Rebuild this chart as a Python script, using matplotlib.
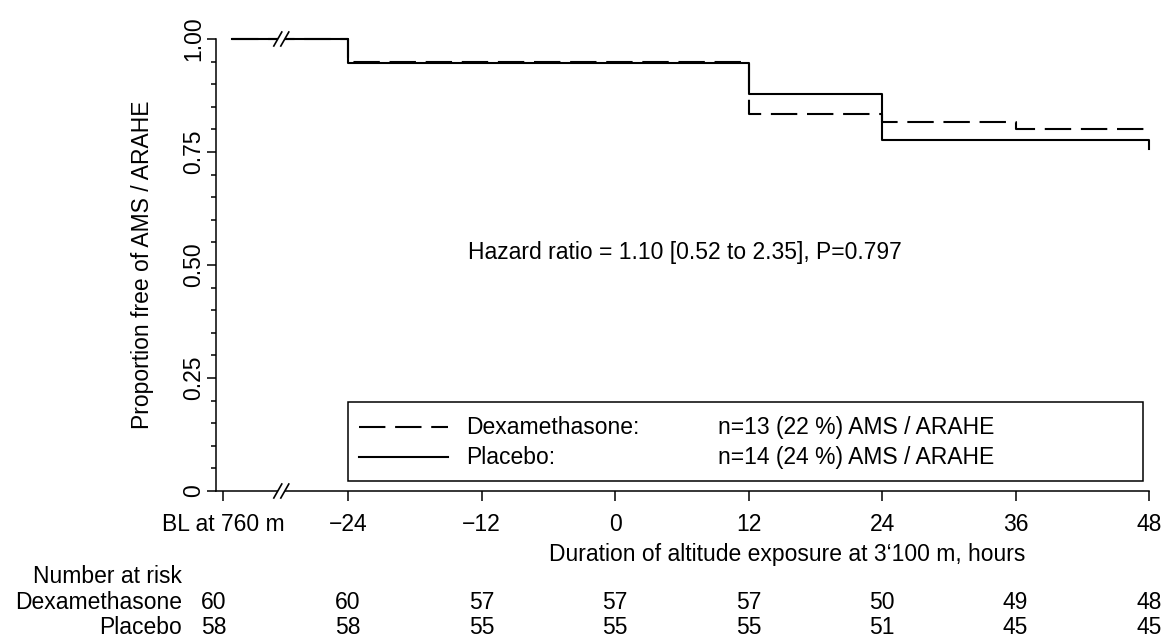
import matplotlib
matplotlib.use('Agg')
import matplotlib.pyplot as plt
from matplotlib.patches import Rectangle, Polygon

plt.rcParams['font.family'] = ['Liberation Sans', 'DejaVu Sans']
plt.rcParams['lines.scale_dashes'] = False

# data
bl_tick = -35.2          # position of the "BL at 760 m" tick
bl_start = -34.4         # where the curves begin
axis_break = -30.0
x_ticks = [-24, -12, 0, 12, 24, 36, 48]

dex_time = [bl_start, -24, 12, 24, 36, 48]
dex_surv = [1.0, 0.950, 0.833, 0.817, 0.800, 0.800]
pla_time = [bl_start, -24, 12, 24, 48]
pla_surv = [1.0, 0.948, 0.879, 0.776, 0.757]

risk_cols = [-36.1, -24, -12, 0, 12, 24, 36, 48]
risk_dex = [60, 60, 57, 57, 57, 50, 49, 48]
risk_pla = [58, 58, 55, 55, 55, 51, 45, 45]

legend_names = ['Dexamethasone:', 'Placebo:']
legend_counts = ['n=13 (22 %) AMS / ARAHE', 'n=14 (24 %) AMS / ARAHE']
hazard_text = 'Hazard ratio = 1.10 [0.52 to 2.35], P=0.797'

W, H = 1164, 639
FS = 16.5
dash = (19, 7)

# pixel helpers
AX_L, AX_R, AX_T, AX_B = 216, 1149, 39, 491
def fx(px):
    return px / W
def fy(py):
    return 1 - py / H
def ax_x(px):
    return (px - AX_L) / (AX_R - AX_L)
def ax_y(py):
    return (AX_B - py) / (AX_B - AX_T)

fig = plt.figure(figsize=(W / 100, H / 100), dpi=100)
ax = fig.add_axes([fx(AX_L), fy(AX_B), (AX_R - AX_L) / W, (AX_B - AX_T) / H])

ax.plot(pla_time, pla_surv, drawstyle='steps-post', color='black', lw=1.5,
        clip_on=False, zorder=3)
ax.plot(dex_time, dex_surv, drawstyle='steps-post', color='black', lw=1.5,
        linestyle=(0, dash), clip_on=False, zorder=3)

ax.set_xlim(-35.87, 48)
ax.set_ylim(0, 1)
for s in ['top', 'right']:
    ax.spines[s].set_visible(False)
for s in ['left', 'bottom']:
    ax.spines[s].set_linewidth(1.1)

ax.set_xticks([bl_tick] + x_ticks)
ax.set_xticklabels(['BL at 760 m'] + [str(t).replace('-', '\u2212') for t in x_ticks],
                   fontsize=FS)
ax.set_yticks([0, 0.25, 0.5, 0.75, 1.0])
ax.set_yticklabels(['0', '0.25', '0.50', '0.75', '1.00'], fontsize=FS,
                   rotation=90, va='center')
ax.set_yticks([i * 0.05 for i in range(21)], minor=True)
ax.tick_params(axis='x', length=7.5, width=1.1, pad=8.5)
ax.tick_params(axis='y', which='major', length=6.3, width=1.1, pad=1.5)
ax.tick_params(axis='y', which='minor', length=3.6, width=1.1)

# axis break marks on the curve and the x axis
def break_mark(y):
    tr = ax.transData
    xd, yd = tr.transform((axis_break, y))
    inv = tr.inverted()
    gap = [inv.transform((xd - 3.5 - 4, yd - 7)), inv.transform((xd - 3.5 + 4, yd + 7)),
           inv.transform((xd + 3.5 + 4, yd + 7)), inv.transform((xd + 3.5 - 4, yd - 7))]
    ax.add_patch(Polygon(gap, closed=True, facecolor='white', edgecolor='none',
                         clip_on=False, zorder=4))
    for off in (-3.5, 3.5):
        a = inv.transform((xd + off - 4, yd - 7))
        b = inv.transform((xd + off + 4, yd + 7))
        ax.plot([a[0], b[0]], [a[1], b[1]], color='black', lw=1.2,
                clip_on=False, zorder=5)

break_mark(1.0)
break_mark(0.0)

fig.text(fx(143), fy((AX_T + AX_B) / 2), 'Proportion free of AMS / ARAHE',
         fontsize=FS, rotation=90, ha='center', va='center')
fig.text(fx(787), fy(561), 'Duration of altitude exposure at 3\u2018100 m, hours',
         fontsize=FS, ha='center', va='baseline')

ax.text(ax_x(468), ax_y(259), hazard_text, transform=ax.transAxes, fontsize=FS,
        ha='left', va='baseline')

# legend box
x0, x1, y0, y1 = ax_x(348), ax_x(1143), ax_y(481), ax_y(402)
ax.add_patch(Rectangle((x0, y0), x1 - x0, y1 - y0, transform=ax.transAxes,
                       facecolor='white', edgecolor='black', lw=1.1, zorder=6))
styles = [(0, dash), '-']
line_rows = [427, 457]
text_rows = [434, 464]
for name, count, st, ly, ty in zip(legend_names, legend_counts, styles,
                                   line_rows, text_rows):
    ax.plot([ax_x(359), ax_x(448)], [ax_y(ly), ax_y(ly)], transform=ax.transAxes,
            color='black', lw=1.5, linestyle=st, zorder=7)
    ax.text(ax_x(466), ax_y(ty), name, transform=ax.transAxes, fontsize=FS,
            ha='left', va='baseline', zorder=7)
    ax.text(ax_x(718), ax_y(ty), count, transform=ax.transAxes, fontsize=FS,
            ha='left', va='baseline', zorder=7)

# number at risk table
trans = ax.get_xaxis_transform()
fig.text(fx(182), fy(583), 'Number at risk', fontsize=FS, ha='right', va='baseline')
fig.text(fx(182), fy(609), 'Dexamethasone', fontsize=FS, ha='right', va='baseline')
fig.text(fx(182), fy(634), 'Placebo', fontsize=FS, ha='right', va='baseline')
for xc, nd, npl in zip(risk_cols, risk_dex, risk_pla):
    ax.text(xc, ax_y(609), str(nd), transform=trans, fontsize=FS, ha='center',
            va='baseline', clip_on=False)
    ax.text(xc, ax_y(634), str(npl), transform=trans, fontsize=FS, ha='center',
            va='baseline', clip_on=False)

fig.savefig('out.png', dpi=100)
